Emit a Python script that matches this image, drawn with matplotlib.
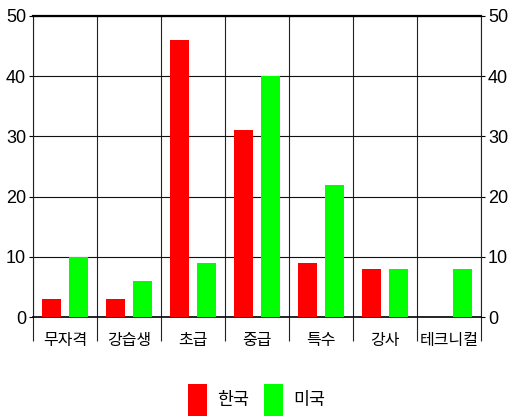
import matplotlib
matplotlib.use("Agg")
import matplotlib.pyplot as plt
from matplotlib import font_manager

# ==============================
# Dados
# ==============================
categorias = ["무자격", "강습생", "초급", "중급", "특수", "강사", "테크니컬"]
coreia = [3, 3, 46, 31, 9, 8, 0]
eua = [10, 6, 9, 40, 22, 8, 8]
series_nomes = ["한국", "미국"]
yticks = [0, 10, 20, 30, 40, 50]

# fontes
nomes = {f.name for f in font_manager.fontManager.ttflist}
num_font = "Liberation Sans Narrow" if "Liberation Sans Narrow" in nomes else "Liberation Sans"
kr_font = ["Noto Sans CJK KR", "DejaVu Sans"]

fig = plt.figure(figsize=(5.08, 4.17), dpi=100)
W, H = 508, 417
ax = fig.add_axes([33 / W, (H - 317) / H, (481 - 33) / W, (317 - 16) / H])

n = len(categorias)
pos = list(range(n))
bw = 0.3
ax.bar([p + 0.29 for p in pos], coreia, width=bw, color="#ff0000", zorder=3, label=series_nomes[0])
ax.bar([p + 0.71 for p in pos], eua, width=bw, color="#00ff00", zorder=3, label=series_nomes[1])

ax.set_xlim(0, n)
ax.set_ylim(0, 50)

# separadores verticais (minor ticks longos)
ax.set_xticks([p for p in range(n + 1)], minor=True)
ax.set_xticks([p + 0.5 for p in pos])
ax.set_xticklabels(categorias, family=kr_font, fontsize=11.5)
ax.tick_params(axis="x", which="major", length=0, pad=11)
ax.tick_params(axis="x", which="minor", length=17.5, width=0.8, direction="out", color="#222222")
ax.grid(axis="x", which="minor", color="#222222", linewidth=0.8, zorder=1)

ax.set_yticks(yticks)
ax.tick_params(axis="y", which="major", length=3, width=0.8, direction="out",
               left=True, right=True, labelleft=True, labelright=True, pad=2, labelsize=13)
for lab in ax.yaxis.get_ticklabels():
    lab.set_family(num_font)
ax.grid(axis="y", which="major", color="#111111", linewidth=0.8, zorder=1)

for s in ["left", "right"]:
    ax.spines[s].set_color("#222222")
    ax.spines[s].set_linewidth(0.8)
ax.spines["bottom"].set_color("black")
ax.spines["bottom"].set_linewidth(1.2)
ax.spines["top"].set_linewidth(1.6)
ax.spines["top"].set_color("black")

leg = fig.legend(loc="lower center", bbox_to_anchor=(0.505, -8 / H), ncol=2, frameon=False,
                 prop={"family": kr_font, "size": 12.5}, handlelength=1.1, handleheight=2.5,
                 handletextpad=0.55, columnspacing=0.9, borderpad=0.0)

fig.savefig("out.png", dpi=100)
